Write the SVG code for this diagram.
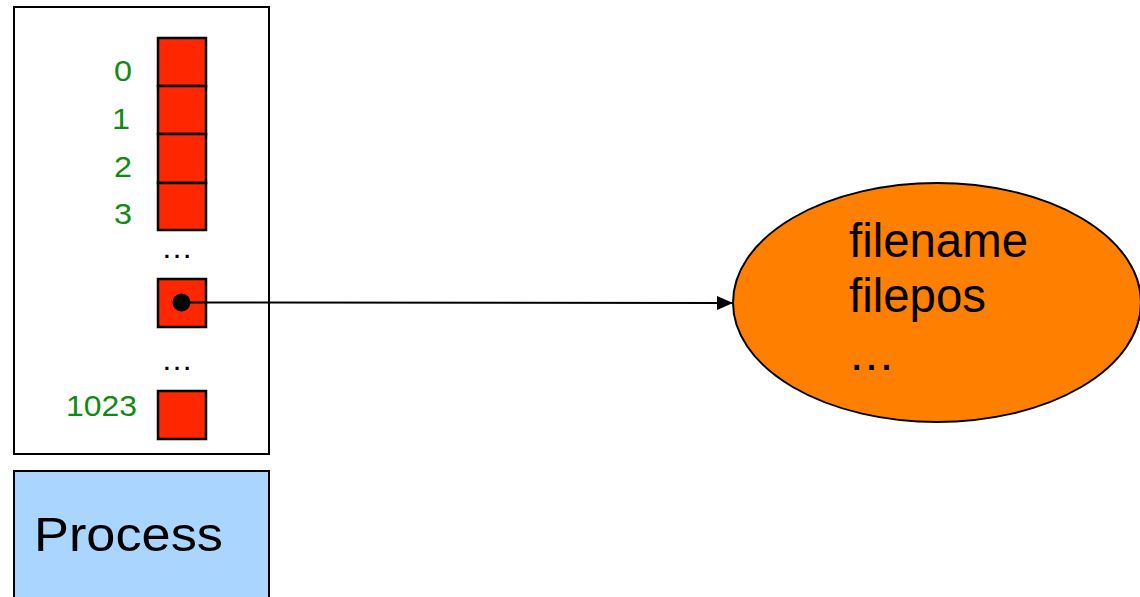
<svg xmlns="http://www.w3.org/2000/svg" width="1140" height="597" viewBox="0 0 1140 597">
  <style>
    .cell { fill: #FF2600; stroke: #000; stroke-width: 2.5; }
    .idx { font-family: "Liberation Sans", Arial, sans-serif; font-size: 30px; fill: #118A11; text-anchor: end; }
    .big { font-family: "Liberation Sans", Arial, sans-serif; font-size: 48px; fill: #000; }
    .dots { font-family: "Liberation Sans", Arial, sans-serif; font-size: 32px; fill: #000; text-anchor: middle; }
  </style>
  <defs>
    <marker id="arrow" markerWidth="16" markerHeight="14" refX="16" refY="7" orient="auto" markerUnits="userSpaceOnUse">
      <path d="M0,0 L16,7 L0,14 Z" fill="#000"/>
    </marker>
  </defs>
  <rect width="1140" height="597" fill="#fff"/>

  <g id="fd-table">
    <rect x="14" y="7" width="255" height="447" fill="#fff" stroke="#000" stroke-width="2"/>
    <rect class="cell" x="158" y="38" width="48" height="48"/>
    <rect class="cell" x="158" y="86" width="48" height="48"/>
    <rect class="cell" x="158" y="134" width="48" height="49"/>
    <rect class="cell" x="158" y="183" width="48" height="47"/>
    <rect class="cell" x="158" y="279" width="48" height="48"/>
    <rect class="cell" x="158" y="391" width="48" height="48"/>
    <circle cx="181.5" cy="302.5" r="9" fill="#000"/>
    <text class="idx" x="132" y="81" textLength="18" lengthAdjust="spacingAndGlyphs">0</text>
    <text class="idx" x="130" y="129" textLength="18" lengthAdjust="spacingAndGlyphs">1</text>
    <text class="idx" x="132" y="177" textLength="18" lengthAdjust="spacingAndGlyphs">2</text>
    <text class="idx" x="132" y="224" textLength="18" lengthAdjust="spacingAndGlyphs">3</text>
    <text class="idx" x="137" y="416" textLength="71" lengthAdjust="spacingAndGlyphs">1023</text>
    <text class="dots" x="177" y="258">…</text>
    <text class="dots" x="177" y="370">…</text>
  </g>

  <g id="process">
    <rect x="14" y="471" width="255" height="140" fill="#A9D5FF" stroke="#000" stroke-width="2"/>
    <text class="big" x="34" y="551" font-size="50" textLength="189" lengthAdjust="spacingAndGlyphs">Process</text>
  </g>

  <g id="file-object">
    <ellipse cx="937" cy="302.5" rx="204" ry="119.5" fill="#FF7F00" stroke="#000" stroke-width="2"/>
    <text class="big" x="849" y="257" textLength="179" lengthAdjust="spacingAndGlyphs">filename</text>
    <text class="big" x="849" y="312" textLength="137" lengthAdjust="spacingAndGlyphs">filepos</text>
    <text class="big" x="850" y="370" font-size="54" letter-spacing="1.5">...</text>
  </g>

  <g id="connectors">
    <line x1="181.5" y1="302.5" x2="733" y2="303" stroke="#000" stroke-width="2" marker-end="url(#arrow)"/>
  </g>
</svg>
